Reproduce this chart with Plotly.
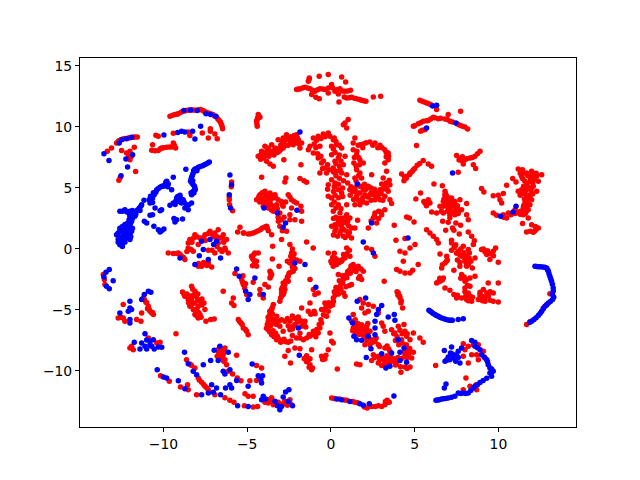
import plotly.graph_objects as go

# points, (x, y) in axis units, grouped by where they sit
red_upper_left = [
    (-9.61,10.87),(-9.31,11.01),(-9.11,11.09),(-8.82,11.28),(-8.58,11.37),(-8.32,11.39),(-8.06,11.37),(-7.78,11.42),
    (-7.58,11.28),(-7.32,11.15),(-7.06,11.01),(-6.83,10.79),(-6.67,10.52),(-6.55,10.25),(-6.47,9.86),
    (-9.45,10.95),(-9.2,11.05),(-8.95,11.2),(-8.7,11.32),(-8.45,11.38),(-8.2,11.38),(-7.9,11.4),(-7.65,11.35),(-7.45,11.2),(-7.2,11.08),(-6.95,10.9),(-6.75,10.65),(-6.6,10.4),(-6.5,10.05),
    (-11.56,9.18),(-11.8,9.15),(-12.1,9.1),(-12.4,9.02),(-12.64,8.88),(-12.8,8.69),(-13.1,8.28),(-13.35,8.0),
    (-12.5,8.97),(-12.3,9.05),(-12.0,9.12),(-11.7,9.17),(-12.7,8.8),
    (-12.5,8.06),(-12.2,7.87),(-12.0,8.0),(-11.74,8.33),(-11.9,7.6),(-12.0,7.32),(-12.08,7.55),(-11.66,6.34),(-12.66,5.63),(-12.58,5.85),
    (-10.7,8.09),(-10.31,8.06),(-10.11,8.28),(-9.81,8.33),(-9.51,8.36),(-9.27,8.28),(-9.41,8.69),(-10.65,8.55),(-10.45,9.32),(-10.31,9.23),
    (-10.5,8.05),(-10.2,8.2),(-10.0,8.3),(-9.65,8.35),(-9.35,8.5),
    (-9.41,9.48),(-8.52,9.59),(-8.42,9.29),(-7.68,9.51),(-7.2,9.86),(-7.2,9.64),(-7.32,9.1),(-6.93,9.43),(-6.79,9.04),
    (-4.34,11.01),(-4.38,10.74),(-4.44,10.46),(-4.4,10.05),(-4.24,10.79),(-4.4,10.6),(-4.42,10.25),(-4.3,10.9),
    (-5.93,5.49),(-6.07,4.04),(-6.05,3.63),(-5.87,3.14),(-5.95,5.1),(-6.07,4.25),
]
red_top_center = [
    (-0.7,14.15),(-0.16,14.29),(-1.29,14.02),(-1.35,13.74),(-2.05,13.06),(-1.85,13.11),(-1.55,13.25),(-1.25,13.14),(-0.96,12.92),
    (-0.66,13.14),(-0.36,13.06),(-0.16,13.2),(-1.15,12.65),(-0.9,12.43),(-0.7,12.32),(-0.16,12.79),(0.64,14.1),(0.88,13.69),(0.04,13.47),
    (0.24,12.92),(0.54,13.14),(0.84,12.92),(1.17,13.0),(0.44,12.7),(0.94,12.38),(1.23,12.43),(1.53,12.32),(1.83,12.19),(2.09,12.1),
    (0.48,12.05),(2.53,12.46),(2.97,12.51),
    (-1.95,13.1),(-1.7,13.2),(-1.4,13.2),(-1.1,13.0),(-0.8,13.05),(-0.5,13.1),(-1.3,13.9),(0.1,13.2),(0.35,13.05),(0.7,12.95),(1.0,12.95),(0.8,12.45),(1.1,12.4),(1.4,12.35),(1.7,12.25),(1.95,12.15),
]
red_center_top = [
    (-4.34,7.6),(-4.14,8.0),(-3.94,8.42),(-3.74,8.28),(-3.54,8.55),(-3.34,8.28),(-3.15,8.96),(-2.85,9.1),(-2.65,9.37),(-2.45,8.96),
    (-2.25,9.1),(-2.05,9.37),(-1.95,8.96),(-1.75,8.69),(-1.85,8.28),(-2.25,8.55),(-2.55,8.5),(-2.85,8.28),(-3.09,8.0),(-3.54,7.87),
    (-3.84,7.73),(-4.04,7.46),(-3.84,7.19),(-3.64,6.97),(-3.44,6.78),(-2.81,7.32),(-1.79,6.91),(-4.14,5.87),(-2.69,5.82),(-2.75,5.49),
    (-1.85,5.77),(-1.61,5.6),(-1.45,5.46),(-1.25,8.42),(-1.35,8.14),(-1.05,9.1),(-0.76,9.23),(-0.46,9.43),(-0.16,9.51),(-0.66,8.42),
    (-1.05,7.87),(-0.76,7.46),(-0.56,7.05),(-0.36,6.64),(-0.26,6.23),(-0.66,6.23),(-0.16,5.27),(-0.2,4.9),(-0.16,4.32),
    (-4.2,7.7),(-4.0,7.9),(-3.8,8.1),(-3.6,8.0),(-3.4,8.05),(-3.2,8.2),(-3.0,8.5),(-2.9,8.75),(-2.7,8.9),(-2.6,9.1),(-2.4,9.2),(-2.2,9.3),(-2.0,9.1),(-2.15,8.85),(-2.4,8.7),(-2.7,8.5),(-3.0,8.15),(-3.2,7.9),(-3.4,7.7),(-3.7,7.6),(-3.95,7.6),(-4.2,7.35),(-1.9,8.6),(-2.05,8.7),(-1.0,8.6),(-0.85,8.9),(-0.6,9.05),(-0.35,9.2),(-0.9,8.3),(-0.8,7.8),(-0.6,7.6),(-0.45,7.2),(-0.2,6.9),(-0.1,6.5),(-0.5,6.6),
    (-0.06,9.23),(0.14,8.96),(0.34,8.55),(0.04,8.42),(0.64,8.28),(1.03,10.6),(0.84,10.33),(0.94,9.92),(0.74,10.19),(1.43,9.1),
    (1.33,8.69),(1.63,8.5),(1.93,8.6),(2.33,8.77),(2.63,8.69),(2.93,8.5),(3.22,8.14),(3.42,7.87),(3.42,7.32),(3.22,7.05),(3.44,7.6),
    (1.33,8.14),(1.53,7.73),(1.73,7.32),(1.93,7.05),(1.37,7.05),(1.53,6.5),(1.73,6.23),(1.43,5.82),(1.83,5.82),(2.43,6.09),(3.32,6.37),
    (3.12,5.82),(3.48,5.63),
    (1.13,4.86),(1.43,5.0),(1.73,5.14),(1.93,4.86),(2.23,5.14),(2.53,4.73),(2.33,4.45),(2.03,4.45),(1.73,4.59),(1.53,4.32),(2.63,4.04),
    (2.93,4.86),(3.03,5.33),(3.22,5.14),(3.52,5.27),(3.42,4.73),(3.22,4.32),(3.52,4.04),(3.62,3.72),(2.93,4.04),(2.13,3.77),(1.73,3.63),
    (1.43,3.63),(0.94,3.63),(2.63,2.95),(2.53,2.54),(2.23,1.72),(2.73,2.13),(3.03,2.81),(3.22,3.22),(1.59,2.35),
    (0.04,7.73),(0.24,7.19),(0.44,7.46),(0.74,6.91),(0.84,7.6),(0.14,6.64),(0.34,6.37),(0.64,6.23),(0.94,6.09),(0.04,5.68),(0.24,5.41),
    (0.44,4.86),(0.64,4.59),(0.04,4.18),(0.04,3.63),(0.44,3.63),(0.14,3.09),(0.54,2.95),(0.94,2.81),(1.13,2.54),(0.74,2.54),(0.44,2.27),
    (0.24,1.99),(0.64,1.86),(0.94,2.13),(1.23,1.72),(1.43,1.72),(0.54,1.31),(0.94,1.45),(1.23,0.9),(0.24,1.45),(0.04,1.86),
    (0.2,9.1),(0.3,8.8),(0.5,8.5),(0.15,8.2),(0.25,7.9),(0.5,7.7),(0.6,7.2),(0.3,7.0),(0.5,6.8),(0.55,6.5),(0.15,6.3),(0.3,6.0),(0.5,5.8),(0.75,5.6),(0.2,5.1),(0.45,5.3),(0.7,5.0),(0.15,4.7),(0.25,4.4),(0.45,4.2),(0.7,4.3),(0.2,3.85),(0.6,3.3),(0.3,3.35),
    (1.0,5.4),(1.2,5.1),(1.3,4.7),(1.15,4.4),(1.35,4.05),(1.5,4.7),(1.6,5.3),(1.85,5.1),(2.0,5.3),(2.1,4.9),(2.4,5.0),(2.6,4.9),(2.4,4.6),(2.2,4.25),(2.6,4.4),(2.75,4.6),(2.8,4.3),(1.9,4.2),(1.65,4.0),(1.9,3.85),(2.4,4.0),(3.0,4.55),(3.1,4.9),(3.35,4.9),(3.3,5.4),(3.1,4.0),
    (1.5,5.6),(1.65,6.0),(1.5,6.8),(1.7,6.9),(1.4,7.5),(1.55,8.0),(1.9,8.3),(1.75,8.55),(2.1,8.7),(2.5,8.5),(2.8,8.3),(3.05,8.3),(3.3,7.9),(3.3,7.55),(1.65,7.5),
    (0.3,2.6),(0.55,2.5),(0.85,2.5),(0.45,2.05),(0.7,2.15),(0.15,2.5),(0.3,1.7),(0.75,1.6),(1.05,1.9),(1.0,2.3),(0.6,1.5),(0.15,1.15),(0.75,1.05),(0.85,0.95),(1.05,1.1),(0.4,1.05),(1.1,1.35),
    (2.4,2.3),(2.6,2.7),(2.85,3.1),(3.0,3.0),(2.85,2.5),
]
red_left_mid = [
    (-4.24,4.45),(-3.94,4.73),(-3.64,4.59),(-3.34,4.45),(-3.15,4.04),(-4.44,4.04),(-4.14,4.04),(-3.84,3.9),(-3.64,3.9),(-3.24,3.63),
    (-4.04,3.5),(-3.74,3.36),(-3.44,3.09),(-2.95,3.9),(-2.85,3.5),(-3.05,2.95),(-2.55,4.45),(-2.35,4.04),(-2.05,3.77),(-1.79,3.5),
    (-2.35,3.36),(-1.75,3.09),(-2.45,2.81),(-2.15,2.4),(-1.75,2.27),(-3.14,2.27),(-3.05,1.86),(-2.65,1.45),(-2.95,0.77),(-1.45,0.57),
    (-4.1,4.6),(-3.85,4.45),(-3.5,4.4),(-3.95,4.25),(-3.7,4.2),(-3.5,4.15),(-3.3,4.2),(-4.3,4.3),(-4.25,3.85),(-4.0,3.8),(-3.6,3.65),(-3.4,3.5),(-3.85,3.6),(-3.2,3.3),(-3.55,3.2),(-2.9,3.6),(-2.7,3.85),(-2.45,4.25),(-2.2,3.9),(-3.15,2.6),(-2.95,2.4),(-2.8,2.6),(-2.45,2.4),(-2.9,1.5),
    (-5.43,1.78),(-5.57,1.39),(-5.23,1.31),(-4.94,1.23),(-4.64,1.31),(-4.34,1.5),(-4.1,1.72),(-3.84,1.86),(-3.74,1.5),(-3.54,1.17),
    (-5.2,1.3),(-4.8,1.25),(-4.5,1.4),(-4.2,1.6),(-3.95,1.8),(-3.8,1.7),
    (-8.42,0.77),(-8.12,1.17),(-7.82,0.9),(-7.52,1.17),(-7.22,1.45),(-6.93,1.31),(-6.73,1.58),(-6.43,1.17),(-6.23,0.77),(-6.63,0.9),
    (-8.2,0.9),(-8.0,1.0),(-7.6,0.95),(-7.35,1.25),(-7.1,1.2),(-6.8,1.0),(-6.5,0.9),(-7.0,1.0),(-8.3,0.55),(-7.5,0.7),(-6.4,0.55),
    (-9.71,-0.33),(-9.41,-0.38),(-9.11,-0.33),(-8.92,-0.6),(-8.72,-0.87),(-8.52,0.08),(-8.22,-0.19),(-7.92,0.36),(-7.32,-0.11),(-7.92,-1.42),
    (-7.72,-1.42),(-7.52,-1.28),(-7.32,-1.15),(-7.12,-1.48),(-6.93,-0.33),(-6.63,-0.05),(-6.33,0.08),(-6.13,-0.33),(-6.73,0.49),(-8.52,0.49),
    (-9.2,-0.38),(-9.0,-0.45),(-8.8,-0.7),(-7.9,-1.2),(-7.8,-1.3),(-7.6,-1.1),(-7.4,-1.35),(-8.6,-0.2),(-8.35,-0.05),(-7.1,-0.1),(-6.8,0.2),(-6.5,-0.2),(-6.3,-0.05),
    (-4.54,-0.33),(-4.74,-0.6),(-4.64,-0.87),(-4.44,-1.01),(-4.68,-1.37),(-4.44,-1.42),(-4.34,-0.33),(-4.6,-0.45),(-4.7,-0.75),(-4.55,-1.2),
    (-3.48,0.22),(-3.5,-0.82),(-3.1,-1.42),(-3.64,-1.83),(-3.54,-2.1),(-3.64,-2.38),(-2.45,0.36),(-2.35,-0.33),(-2.25,-0.74),(-2.45,-1.15),(-3.6,-2.25),(-3.6,-1.95),
    (-1.85,-1.01),(-2.25,-1.83),(-2.55,-2.24),(-2.85,-2.79),(-2.85,-3.33),(-2.95,-3.88),(-3.05,-4.29),(-1.06,0.08),(-0.16,-0.33),(-1.25,-2.51),
    (-2.55,-2.65),(-2.75,-2.92),(-2.95,-3.33),(-2.85,-3.74),(-1.05,-3.33),(-0.96,-3.74),(-0.76,-3.6),
    (-2.6,-2.3),(-2.7,-2.6),(-2.8,-2.95),(-2.9,-3.15),(-2.75,-3.3),(-2.8,-3.55),(-2.95,-3.6),(-3.0,-4.0),(-2.4,-1.9),(-2.3,-1.5),(-2.35,-0.9),(-2.25,-1.3),(-2.2,-0.4),(-2.4,-0.6),(-2.5,-2.0),(-2.15,-1.6),(-2.3,0.0),(-2.05,-0.9),(-2.6,-1.0),
]
red_lower_left = [
    (-13.59,-2.1),(-13.53,-2.51),(-13.49,-2.92),(-11.14,-4.15),(-10.9,-4.7),(-10.8,-5.11),(-10.6,-5.38),(-11.0,-4.4),(-12.4,-4.56),
    (-11.05,-4.35),(-10.95,-4.9),(-10.85,-4.95),(-10.7,-5.25),(-11.2,-4.0),(-12.55,-5.6),(-10.65,-5.2),
    (-12.7,-5.66),(-12.4,-5.66),(-12.3,-5.93),(-11.6,-5.79),(-11.34,-5.93),(-11.3,-5.25),
    (-12.0,-8.11),(-11.8,-8.25),(-11.9,-7.98),(-10.9,-7.3),(-10.4,-7.71),(-10.2,-7.65),
    (-10.17,-10.38),(-9.65,-10.85),(-8.98,-11.31),(-8.52,-11.53),(-8.56,-11.12),(-8.62,-9.07),(-8.32,-9.56),(-8.12,-9.75),(-7.92,-10.57),
    (-7.72,-10.93),(-7.52,-11.26),(-7.32,-11.53),(-8.02,-11.94),(-6.93,-11.94),(-6.33,-12.2),(-6.03,-12.4),(-5.79,-12.57),(-5.17,-12.84),
    (-7.85,-10.75),(-7.6,-11.1),(-7.4,-11.4),(-8.4,-9.45),
    (-4.64,-12.95),(-4.38,-12.9),(-5.37,-10.79),(-4.84,-10.79),(-4.44,-10.77),(-5.13,-11.86),(-4.94,-12.08),(-4.64,-12.08),
    (-6.73,-8.25),(-6.53,-8.25),(-6.33,-8.11),(-5.63,-8.72),(-6.43,-8.66),(-6.33,-9.07),(-6.23,-9.48),(-6.79,-8.8),(-6.13,-10.03),
    (-6.7,-8.5),(-6.6,-8.7),(-6.5,-8.9),(-6.4,-9.2),(-6.5,-8.3),(-6.65,-8.05),(-6.4,-8.4),
    (-5.87,-10.25),(-5.59,-10.57),(-4.44,-9.56),(-4.14,-9.75),
    (-3.94,-12.57),(-3.74,-12.35),(-3.54,-12.2),(-3.74,-12.62),(-3.44,-12.76),(-3.15,-12.57),(-2.75,-12.48),(-2.55,-12.62),(-2.45,-12.35),
    (-3.85,-12.4),(-3.6,-12.45),(-3.3,-12.65),(-3.05,-12.7),(-2.85,-12.7),(-2.6,-12.8),(-2.4,-12.7),(-3.95,-12.3),
    (-5.73,-2.02),(-5.33,-2.51),(-5.23,-2.92),(-5.03,-3.74),(-4.64,-2.73),(-3.94,-2.92),(-3.74,-3.11),(-4.24,-3.33),(-4.24,-3.74),(-4.04,-4.02),
    (-5.28,-2.7),(-5.15,-3.2),(-5.4,-2.3),(-5.25,-2.2),(-5.1,-2.85),
    (-6.43,-3.47),(-5.83,-4.02),(-5.93,-4.43),(-5.79,-4.64),
    (-8.86,-3.52),(-8.72,-3.88),(-8.52,-4.15),(-8.32,-3.06),(-8.12,-3.47),(-8.32,-4.02),(-8.12,-4.43),(-8.42,-4.7),(-8.22,-4.97),(-7.92,-4.7),
    (-7.82,-4.29),(-7.58,-4.43),(-7.52,-4.97),(-8.12,-5.38),(-7.92,-5.65),(-7.82,-5.38),(-7.46,-5.93),(-7.18,-5.79),(-6.97,-5.74),
    (-8.78,-3.7),(-8.6,-3.7),(-8.4,-3.85),(-8.5,-4.4),(-8.3,-4.3),(-8.2,-3.8),(-8.05,-3.9),(-7.95,-4.15),(-7.7,-4.6),(-8.0,-4.9),(-8.3,-4.55),(-8.1,-5.0),(-7.9,-5.2),(-8.0,-5.5),(-7.75,-5.6),(-7.95,-3.7),(-8.25,-3.3),(-7.7,-4.1),
    (-5.53,-5.79),(-5.37,-6.07),(-5.23,-6.48),(-5.03,-6.75),(-4.94,-7.02),(-9.25,-6.94),(-5.3,-6.2),(-5.1,-6.6),(-5.45,-5.95),
]
red_center_low = [
    (-3.44,-4.56),(-3.54,-4.97),(-3.64,-5.38),(-3.74,-5.93),(-3.74,-6.61),(-3.54,-7.02),(-3.24,-7.43),(-2.95,-7.57),(-2.55,-7.65),(-3.44,-6.07),
    (-3.24,-5.52),(-3.05,-6.34),(-2.75,-5.93),(-2.45,-5.93),(-2.25,-5.66),(-1.95,-5.57),(-1.75,-5.93),(-1.55,-5.93),(-2.25,-6.34),(-2.45,-6.61),
    (-1.75,-6.34),(-2.85,-6.75),(-2.05,-7.3),(-1.65,-7.43),(-1.25,-7.16),(-1.05,-6.75),(-1.75,-4.84),(-1.25,-4.43),(-1.35,-5.11),(-1.0,-5.11),
    (-0.56,-4.97),(-0.36,-4.43),(-0.16,-5.11),(-0.26,-5.52),(-0.56,-6.07),(-0.66,-6.48),(-0.76,-6.88),(-0.16,-8.25),
    (-3.5,-4.8),(-3.65,-5.1),(-3.5,-5.3),(-3.75,-5.6),(-3.55,-5.7),(-3.8,-6.2),(-3.6,-6.3),(-3.85,-6.5),(-3.65,-6.8),(-3.45,-6.7),(-3.4,-7.2),(-3.2,-7.15),(-3.1,-7.4),(-2.8,-7.4),(-3.3,-6.9),(-3.0,-7.65),(-2.7,-7.6),(-2.4,-7.55),(-3.35,-5.8),(-3.25,-6.2),(-3.1,-5.9),(-2.95,-5.8),(-2.6,-5.7),(-2.3,-5.5),(-2.1,-5.7),(-1.85,-5.85),(-2.0,-6.0),(-2.15,-6.2),(-2.55,-6.3),(-2.3,-6.55),(-1.6,-6.1),(-1.5,-6.4),(-1.85,-6.9),(-2.3,-7.1),(-1.85,-7.3),(-1.45,-7.3),(-1.3,-7.0),(-0.85,-6.6),(-0.7,-6.2),(-0.6,-5.8),(-0.45,-5.4),(-0.35,-5.0),(-0.3,-4.75),(-0.15,-4.4),(-0.95,-5.3),(-1.2,-5.35),(-0.9,-7.2),(-1.05,-7.0),
    (-2.55,-8.33),(-2.75,-8.8),(-2.41,-9.34),(-2.15,-8.11),(-1.85,-8.17),(-1.55,-8.93),(-1.35,-9.07),(-1.25,-9.48),(-1.15,-9.89),(-1.15,-8.25),
    (-0.56,-8.8),(-0.36,-9.02),(-1.6,-9.0),(-1.45,-9.25),(-1.3,-9.7),(-1.25,-9.0),(-1.45,-8.75),(-1.1,-9.75),(-0.45,-8.9),(-0.5,-9.05),(-0.3,-8.7),
    (1.93,-1.83),(1.63,-1.42),(1.33,-1.28),(1.13,-1.69),(0.94,-2.1),(0.74,-2.51),(0.54,-3.06),(0.34,-3.47),(0.14,-4.02),(0.04,-4.43),(-0.06,-4.7),
    (0.84,-3.88),(1.23,-2.92),(1.73,-2.24),(1.83,-2.51),(0.44,-2.1),(0.24,-0.74),(0.04,-1.15),(0.94,0.08),(1.13,-0.6),(0.84,-0.74),(0.64,-1.01),
    (1.8,-1.65),(1.55,-1.6),(1.4,-1.5),(1.2,-1.4),(1.5,-1.85),(1.3,-1.75),(1.15,-2.0),(1.0,-1.85),(0.95,-2.35),(0.85,-2.2),(0.7,-2.2),(0.7,-2.8),(0.6,-2.7),(0.5,-2.6),(0.45,-3.3),(0.6,-3.3),(0.3,-3.15),(0.25,-3.8),(0.45,-3.7),(0.15,-4.3),(0.2,-3.5),(0.1,-4.6),(-0.02,-4.5),(0.75,-3.6),(1.1,-3.0),(0.9,-3.1),(1.65,-2.4),
    (0.4,-0.9),(0.5,-1.1),(0.25,-1.05),(0.7,-0.85),(0.95,-0.4),(1.1,-0.1),(0.75,-0.45),(0.2,-0.35),(0.0,-1.0),(0.1,-0.7),
    (0.34,-1.28),(0.14,-1.42),(2.43,-0.05),(2.63,-0.6),(2.13,0.08),(3.18,-2.65),(4.02,-3.61),(4.12,-4.02),(4.18,-4.43),(4.28,-4.84),(4.0,-3.8),(4.1,-3.85),(4.2,-4.25),(3.95,-3.5),
    (4.12,-0.19),(4.42,-0.33),(4.72,0.08),(5.02,0.36),(4.32,-1.01),(4.12,-1.83),(4.42,-1.97),(4.72,-1.97),(4.88,-1.75),(5.21,-1.28),(3.92,-1.69),
    (1.73,-4.15),(1.93,-4.43),(2.23,-4.56),(1.83,-4.84),(2.03,-5.25),(2.23,-5.11),(2.53,-4.7),(1.33,-5.38),(1.23,-5.93),(2.83,-5.25),(3.03,-6.07),
    (3.12,-6.34),(3.22,-6.75),(1.53,-6.34),(1.83,-6.21),(2.13,-6.34),(2.33,-6.75),(2.03,-6.75),(1.73,-6.75),(1.43,-6.75),(1.33,-6.48),(2.43,-7.43),
    (1.45,-5.8),(1.4,-6.1),(1.6,-6.1),(1.75,-6.4),(1.9,-6.6),(1.55,-6.55),(1.3,-6.7),(2.15,-6.6),(2.2,-6.1),(1.5,-6.95),(1.65,-7.0),(1.9,-7.05),(2.05,-7.2),(2.2,-6.85),(2.7,-7.3),(2.5,-7.65),(2.9,-8.0),(2.15,-7.5),
    (2.33,-7.84),(2.63,-7.57),(2.83,-7.84),(2.03,-7.84),(3.62,-6.61),(3.82,-6.89),(4.12,-6.67),(4.36,-6.2),(4.02,-6.34),(4.42,-6.75),(4.92,-6.89),
    (5.31,-7.3),(5.51,-7.65),(4.52,-7.16),(4.72,-7.43),(4.22,-7.43),(4.72,-8.39),(4.92,-8.47),(4.52,-8.25),(4.42,-8.66),(4.82,-8.93),(3.22,-8.11),
    (3.52,-8.39),(2.53,-8.66),(2.83,-8.8),(3.12,-8.93),(3.42,-9.07),(3.72,-9.21),(2.43,-9.13),(2.83,-9.34),(3.03,-9.56),(3.92,-9.34),(4.42,-9.67),
    (2.6,-8.9),(2.9,-9.1),(3.2,-9.2),(3.5,-9.3),(3.85,-9.5),(4.15,-9.65),(4.55,-9.8),(3.25,-9.4),(2.95,-8.9),(3.35,-8.75),(3.6,-8.9),(3.85,-9.0),(4.0,-8.9),(4.25,-8.95),(4.55,-8.9),(4.65,-8.6),(4.4,-8.4),(4.7,-8.15),(4.5,-7.85),(4.25,-7.7),(4.05,-7.85),(3.85,-7.5),(3.95,-7.2),(3.75,-6.95),(4.25,-6.95),(4.55,-6.95),(3.45,-8.2),(3.35,-7.95),
    (4.72,-9.67),(4.18,-10.11),(1.53,-9.43),(1.73,-9.48),(0.38,-9.84),(-0.06,-6.89),(0.04,-7.57),(0.14,-7.7),
    (0.04,-12.21),(0.94,-12.4),(1.43,-12.57),(2.17,-13.03),(2.43,-12.9),(2.83,-12.84),(3.03,-12.9),(3.22,-12.76),(3.36,-12.4),(3.48,-12.57),
    (0.2,-12.25),(0.5,-12.3),(0.8,-12.38),(1.3,-12.5),(1.6,-12.6),(3.3,-12.6),(3.4,-12.5),(3.25,-12.5),(2.0,-12.95),(2.65,-12.9),
]
red_right = [
    (13.07,-3.66),(12.88,-4.56),(12.68,-4.84),(11.68,-6.2),(11.88,-5.96),
    (7.9,-7.76),(8.2,-7.98),(8.5,-7.84),(8.8,-7.84),(9.1,-8.39),(8.7,-8.66),(8.4,-8.66),(8.8,-9.07),(9.2,-8.93),(8.2,-9.34),(7.9,-8.8),(7.4,-8.93),
    (6.91,-9.07),(8.0,-8.25),(9.5,-9.75),(6.25,-9.56),(8.06,-10.57),(7.9,-11.53),(8.3,-11.26),(8.66,-11.12),(8.7,-11.53),
    (6.41,0.49),(7.2,0.49),(7.4,0.22),(7.6,-0.19),(7.8,-0.6),(8.0,-1.01),(8.1,-1.42),(6.51,-0.41),(6.91,-0.6),(6.81,-1.15),(6.61,-1.56),(6.71,-2.38),
    (6.51,-2.65),(6.31,-2.79),(7.34,-1.75),(7.8,-2.1),(8.0,-2.65),(8.3,-2.38),(8.6,-2.24),(8.0,-3.2),(8.2,-3.61),(8.1,-4.15),(8.4,-4.29),(7.8,-4.02),
    (7.5,-4.02),(7.34,-3.74),(6.81,-3.2),(7.1,-3.39),(8.9,-3.74),(9.3,-3.61),(9.69,-3.61),(8.8,-4.15),(9.2,-4.29),(9.69,-4.29),(9.99,-4.34),(9.99,-2.79),
    (9.39,-2.79),(9.1,-3.33),(8.99,-0.05),(9.3,-0.46),(9.49,-0.87),(9.69,-0.19),(9.83,0.08),(9.99,-1.09),(8.6,-0.74),(8.44,-1.56),(8.26,-0.33),(8.5,0.36),
    (7.9,0.22),(8.1,-0.6),(7.7,-1.42),(8.2,-1.28),(8.3,-3.06),
    (7.2,-0.1),(7.35,0.1),(7.5,-0.35),(7.7,-0.5),(7.45,0.35),(7.75,0.0),(7.95,-0.3),(8.2,-0.05),(8.0,-0.85),(7.55,-0.9),(6.9,-1.0),(6.65,-1.3),(6.95,-0.9),(8.1,-1.2),(8.25,-0.75),(7.7,-1.1),(8.35,-1.0),
    (7.75,-2.4),(7.95,-2.3),(8.1,-2.5),(8.15,-3.0),(8.0,-3.5),(8.05,-3.85),(8.3,-3.85),(8.2,-4.25),(8.45,-3.95),(8.9,-3.95),(9.05,-3.9),(9.2,-4.0),(9.4,-3.85),(9.5,-4.2),(9.05,-4.25),(8.9,-3.55),(9.5,-3.5),(7.55,-3.8),(9.55,-0.4),(9.35,-0.15),(9.2,-0.25),(9.7,-0.55),(9.1,0.0),
    (6.5,-2.4),(6.65,-2.55),(6.4,-2.7),
    (5.31,12.19),(5.61,12.02),(5.87,11.89),(6.31,11.42),(4.92,10.05),(5.21,10.27),(5.51,10.46),(5.81,10.52),(6.11,10.79),(6.41,10.68),(6.81,10.66),
    (7.11,10.46),(7.7,10.14),(8.0,10.0),(8.16,9.84),(7.74,11.28),(7.0,11.01),(5.35,9.64),(5.61,9.78),(5.11,8.47),
    (5.0,10.1),(5.35,10.35),(5.7,10.5),(5.95,10.65),(6.2,10.75),(6.55,10.72),(6.95,10.6),(7.25,10.4),(7.55,10.25),(7.85,10.05),(5.45,12.1),(5.75,11.95),(6.0,11.8),(5.45,9.72),
    (7.5,7.65),(7.74,7.46),(8.0,7.32),(7.9,6.97),(8.3,7.46),(8.6,7.6),(8.9,8.0),(8.5,6.91),(8.64,6.59),(7.6,6.28),
    (7.65,7.3),(7.85,7.2),(7.85,7.55),(8.1,7.4),(8.75,7.8),(8.45,7.5),
    (4.22,6.15),(4.52,5.96),(4.36,5.6),(4.72,6.23),(4.92,6.5),(5.15,6.86),(5.51,7.24),(6.01,6.78),(5.81,6.97),
    (4.7,6.1),(4.5,5.8),(5.0,6.6),(5.3,7.0),(4.85,6.35),(4.4,5.9),
    (6.15,5.33),(6.65,5.19),(5.35,4.59),(5.07,4.1),(5.81,4.04),(5.61,3.77),(5.91,3.77),(6.81,4.73),(6.91,4.32),(7.2,4.18),(7.4,3.9),(6.71,3.9),(6.51,3.5),
    (6.91,3.5),(7.2,3.5),(7.5,3.36),(7.8,3.22),(8.1,3.72),(7.7,4.04),(6.31,2.95),(6.01,3.03),(6.71,2.95),(7.1,2.81),(7.4,2.81),(8.1,2.81),(8.2,2.4),(7.74,1.94),
    (6.85,4.5),(7.0,4.2),(6.75,4.1),(6.95,3.95),(7.15,3.95),(7.3,3.7),(7.05,3.7),(6.85,3.75),(6.7,3.5),(7.05,3.35),(7.35,3.5),(7.55,3.55),(7.65,3.2),(7.45,3.15),(7.15,3.1),(6.95,3.1),(6.6,3.1),(7.3,3.0),(7.6,2.9),(6.8,4.45),(7.1,2.55),
    (5.55,3.9),(5.7,3.55),(5.85,3.85),
    (6.67,2.27),(7.0,2.19),(7.46,2.13),(6.85,1.53),(7.26,1.72),(7.34,1.53),(7.66,1.23),(8.2,1.39),(8.4,1.04),(8.56,0.68),(7.2,0.71),
    (4.52,2.62),(4.68,2.54),(4.96,2.21),(3.78,1.94),(5.71,1.58),(5.91,1.31),(6.11,1.04),(6.31,0.77),(4.42,0.85),(3.88,0.71),
    (8.99,4.95),(9.13,4.67),(9.69,4.37),(9.99,4.4),(10.29,4.54),(10.09,4.04),(10.19,3.77),(10.49,5.22),(10.85,5.77),(11.05,5.49),(11.18,6.56),(11.44,6.5),
    (11.68,6.23),(11.98,6.37),(12.28,5.96),(12.58,6.09),(12.38,5.55),(11.88,5.55),(11.38,5.96),(11.58,5.55),(11.38,4.86),(11.18,4.73),(11.68,4.86),(12.08,5.14),
    (12.28,4.73),(11.88,4.45),(11.68,4.18),(11.98,4.04),(11.58,3.77),(11.88,3.63),(11.48,3.36),(11.78,3.22),(9.69,2.95),(9.89,2.76),(10.29,2.81),(10.59,2.95),
    (10.49,2.54),(11.18,3.03),(11.48,2.81),(11.78,2.54),(11.44,2.08),(11.98,1.99),(12.38,1.72),(12.18,1.5),(12.08,1.37),(11.68,1.39),(10.99,3.22),
    (11.3,6.2),(11.5,6.2),(11.75,6.0),(11.9,5.85),(12.15,5.7),(12.05,5.4),(11.7,5.3),(11.5,5.15),(11.8,5.05),(11.95,4.85),(11.6,4.5),(11.45,4.6),(11.3,4.4),(11.8,4.25),(12.05,4.5),(11.55,4.1),(11.7,3.85),(11.5,3.55),(11.7,3.5),(11.65,3.05),(11.35,3.1),(11.3,2.85),(11.0,2.9),(10.75,2.8),(10.3,2.6),(11.6,2.9),(12.25,1.6),(12.2,1.85),(11.9,1.45),(12.25,6.2),(12.0,6.05),(11.45,5.75),
]
blue_upper_left = [
    (-8.78,11.34),(-8.38,11.39),(-7.98,11.34),(-7.46,11.09),(-7.18,11.01),(-6.87,10.87),(-11.9,9.15),(-12.2,9.04),(-12.5,8.96),(-12.64,8.69),
    (-13.55,7.81),(-13.25,7.24),(-11.84,7.73),(-12.24,7.38),(-12.14,6.72),(-12.53,6.01),(-9.97,9.34),(-9.15,9.54),(-8.92,9.64),(-8.72,9.59),
    (-8.26,9.64),(-8.12,9.02),(-7.78,10.05),
    (-12.6,3.09),(-12.3,3.22),(-12.0,3.09),(-11.7,3.04),(-11.44,3.36),(-11.3,3.63),(-11.7,2.68),(-11.9,2.27),(-12.0,2.0),(-12.2,1.72),(-12.4,1.58),(-12.6,1.45),
    (-12.4,1.17),(-12.1,1.31),(-11.9,1.45),(-12.8,1.17),(-12.5,0.77),(-12.2,0.9),(-12.0,0.77),(-12.3,2.0),(-12.0,2.68),(-12.5,0.36),(-12.7,0.55),
    (-12.7,1.3),(-12.55,1.6),(-12.45,1.85),(-12.3,1.45),(-12.15,1.5),(-12.25,1.2),(-12.6,0.95),(-12.35,0.95),(-12.45,0.6),(-12.3,0.55),(-12.15,1.05),(-12.0,1.2),(-11.85,1.7),(-12.05,1.85),(-11.95,2.15),(-12.15,2.1),(-12.05,2.4),(-11.85,2.5),(-11.8,2.9),(-11.65,2.85),(-11.55,3.2),(-11.85,3.15),(-12.2,3.05),(-12.45,3.1),(-12.05,2.9),(-11.4,3.15),(-11.35,3.5),(-12.6,0.35),(-12.45,0.2),(-12.6,1.7),(-12.7,0.8),(-11.95,1.0),
    (-10.8,3.77),(-10.85,4.04),(-10.77,4.32),(-10.6,4.6),(-10.4,4.86),(-10.2,5.05),(-10.0,5.14),(-9.85,5.49),(-9.71,5.33),(-9.41,5.87),(-11.16,3.99),
    (-10.75,3.9),(-10.65,4.15),(-10.55,4.45),(-10.45,4.65),(-10.3,4.95),(-10.1,5.15),(-9.9,5.3),(-9.75,5.1),(-9.8,5.55),(-10.65,3.8),
    (-9.61,3.58),(-9.41,3.77),(-9.21,4.18),(-9.01,4.4),(-8.82,4.04),(-8.62,3.63),(-8.52,3.22),(-8.32,3.77),(-9.11,3.9),(-8.92,3.77),(-8.72,3.36),
    (-9.25,3.95),(-9.15,4.3),(-8.95,3.95),(-8.75,3.8),(-8.65,3.4),(-8.5,3.6),(-9.3,3.65),(-9.0,4.2),
    (-10.5,3.36),(-10.11,3.22),(-10.2,3.14),(-10.8,2.76),(-10.65,2.81),(-11.14,2.27),(-11.0,2.13),(-10.57,1.86),(-10.3,1.58),(-10.11,1.5),(-9.97,1.64),(-10.2,1.39),
    (-9.37,2.49),(-9.31,2.21),(-9.21,2.4),(-8.86,2.46),
    (-7.26,7.13),(-7.46,6.97),(-7.66,6.83),(-7.92,6.69),(-8.12,6.56),(-8.22,6.23),(-8.32,5.87),(-8.38,5.55),(-8.22,5.27),(-8.12,5.0),(-8.22,4.73),(-8.32,4.45),
    (-7.35,7.05),(-7.55,6.9),(-7.8,6.75),(-8.0,6.6),(-8.2,6.4),(-8.27,6.05),(-8.35,5.7),(-8.3,5.4),(-8.15,5.15),(-8.1,4.85),(-8.25,4.55),(-8.35,4.6),(-8.0,6.4),(-8.25,5.6),
    (-8.18,4.6),(-8.66,6.53),(-9.51,4.86),
    (-6.03,6.07),(-5.93,5.27),(-6.07,4.45),(-5.99,3.36),(-4.0,3.36),(-2.03,3.17),(-2.71,2.13),(-2.85,1.78),(-1.85,9.59),(-3.2,2.95),
]
blue_scattered = [
    (1.57,5.33),(2.43,2.13),(-7.72,0.63),(-7.22,0.77),(-6.83,0.63),(-9.01,-0.74),(-7.62,-0.05),(-7.86,-0.55),(-7.32,-0.87),(-8.12,-1.28),(-6.59,-0.74),
    (-7.0,0.36),(-2.15,-1.15),(-1.55,-1.28),(-1.95,-6.48),(-1.89,-8.72),(-0.9,-3.14),(2.53,-0.33),(6.07,11.72),(6.31,11.78),(7.46,10.33),(5.71,9.92),
    (7.26,6.23),(4.6,0.9),(1.93,0.57),(11.05,3.5),(10.87,3.03),(10.13,2.68),
]
blue_lower_left = [
    (-13.23,-1.69),(-13.43,-1.91),(-13.23,-3.25),(-13.0,-2.6),(-13.55,-2.3),(-13.4,-3.05),
    (-10.9,-3.47),(-10.75,-3.55),(-11.14,-3.74),(-11.3,-4.15),(-12.0,-4.29),(-12.0,-4.84),(-12.1,-5.11),(-11.9,-4.97),(-12.6,-5.25),(-12.0,-5.79),(-12.0,-6.07),
    (-11.74,-7.65),(-11.1,-6.94),(-11.3,-7.71),(-11.1,-7.98),(-10.8,-7.57),(-10.6,-7.43),(-10.7,-7.98),(-11.0,-8.2),(-10.3,-8.03),(-10.1,-8.06),(-11.4,-8.2),
    (-10.55,-8.2),(-11.0,-7.45),(-10.8,-7.85),
    (-10.37,-9.89),(-10.0,-10.49),(-9.81,-10.57),(-9.11,-10.79),(-8.72,-11.45),(-8.74,-8.47),(-8.52,-9.4),(-8.22,-10.03),(-8.02,-10.3),(-7.72,-11.94),(-7.32,-11.8),
    (-7.12,-11.12),(-7.02,-11.75),(-6.83,-11.39),(-6.59,-11.94),(-5.57,-12.84),(-4.94,-12.9),(-6.29,-11.39),(-6.03,-11.12),(-5.93,-11.39),(-5.63,-10.77),(-4.94,-11.26),
    (-6.97,-8.3),(-6.63,-7.98),(-6.13,-8.47),(-6.73,-9.13),(-7.18,-9.15),(-7.62,-9.48),(-6.43,-10.03),(-6.33,-10.25),(-6.03,-9.89),(-4.7,-9.43),(-4.34,-10.38),
    (-4.08,-10.38),(-4.18,-10.71),(-4.14,-10.98),(-2.51,-11.53),(-2.71,-11.72),(-4.04,-12.08),(-4.14,-12.35),(-3.34,-12.48),(-3.05,-13.17),(-2.95,-12.9),(-2.29,-12.84),(-2.85,-12.13),
    (-3.9,-12.3),(-3.2,-12.85),(-2.55,-12.5),
    (-5.63,-1.64),(-5.47,-2.24),(-5.09,-3.47),(-4.84,-3.74),(-4.94,-4.15),(-4.54,-2.38),(-4.04,-3.74),
]
blue_lower_right = [
    (0.34,-12.3),(0.64,-12.35),(1.13,-12.49),(1.73,-12.68),(1.93,-12.8),(2.29,-12.68),(3.76,-12.05),
    (5.85,-5.03),(6.01,-5.19),(6.21,-5.38),(6.41,-5.52),(6.61,-5.66),(6.87,-5.77),(7.1,-5.85),(7.6,-5.79),(7.9,-5.71),
    (5.93,-5.1),(6.1,-5.28),(6.3,-5.45),(6.5,-5.6),(6.75,-5.72),(7.0,-5.82),(7.2,-5.85),(7.25,-5.85),
    (12.18,-1.42),(12.38,-1.45),(12.64,-1.48),(12.88,-1.56),(12.98,-1.83),(13.07,-2.24),(13.17,-2.65),(13.27,-3.2),(13.23,-3.74),(13.23,-4.15),(12.98,-4.43),
    (12.78,-4.7),(12.58,-5.11),(12.38,-5.46),(12.12,-5.79),(11.88,-6.01),
    (12.28,-1.43),(12.5,-1.46),(12.76,-1.5),(12.93,-1.7),(13.02,-2.03),(13.12,-2.45),(13.22,-2.9),(13.27,-3.45),(13.3,-3.95),(13.1,-4.3),(12.88,-4.6),(12.68,-4.9),(12.48,-5.28),(12.25,-5.63),(12.0,-5.9),
    (2.07,-4.02),(1.57,-4.29),(3.03,-4.64),(2.83,-4.97),(2.73,-5.38),(3.42,-5.57),(3.78,-5.38),(3.82,-5.85),(1.07,-5.66),(1.29,-6.07),(2.63,-5.93),(2.63,-6.48),
    (2.63,-7.02),(2.23,-7.16),(1.37,-7.16),(1.53,-7.43),(1.83,-7.49),(4.02,-7.43),(4.36,-8.11),(4.12,-8.47),(2.39,-8.17),(3.03,-8.58),(2.11,-8.9),(3.62,-8.52),
    (4.52,-9.29),(3.28,-9.75),(3.52,-9.62),(4.12,-9.15),
    (6.77,-8.33),(7.2,-8.03),(7.14,-8.52),(7.3,-8.93),(7.5,-8.66),(7.1,-9.07),(6.81,-9.21),(7.7,-9.34),(7.6,-8.39),(7.8,-8.11),(8.4,-7.51),(8.6,-7.98),(8.9,-8.25),
    (8.99,-8.66),(9.3,-9.07),(9.39,-9.48),(9.69,-10.03),(9.49,-10.16),(9.59,-10.44),(9.09,-10.77),(8.74,-11.12),(8.5,-11.39),(8.2,-11.8),(7.9,-11.8),(7.6,-11.8),
    (7.4,-12.08),(7.0,-12.21),(6.71,-12.27),(6.47,-12.35),(6.27,-12.4),(6.87,-11.07),(6.77,-11.39),
    (8.6,-7.65),(8.75,-8.1),(9.15,-8.85),(9.35,-9.25),(9.5,-9.75),(9.6,-9.85),(9.3,-10.6),(8.9,-10.95),(8.6,-11.25),(8.35,-11.6),(8.05,-11.85),(7.75,-11.85),(7.2,-12.15),(6.85,-12.25),(6.6,-12.3),(6.37,-12.38),(7.0,-8.85),(7.25,-8.6),(7.4,-8.8),(7.6,-8.9),(6.95,-9.1),(7.45,-9.2),
]
x_ticks = [-10, -5, 0, 5, 10]
y_ticks = [-10, -5, 0, 5, 10, 15]

red_points = red_upper_left + red_top_center + red_center_top + red_left_mid + red_lower_left + red_center_low + red_right
blue_points = blue_upper_left + blue_scattered + blue_lower_left + blue_lower_right

fig = go.Figure()
for pts, color in [(red_points, "#ff0000"), (blue_points, "#0000ff")]:
    fig.add_trace(go.Scatter(
        x=[p[0] for p in pts], y=[p[1] for p in pts],
        mode="markers", marker=dict(color=color, size=5.5, line=dict(width=0)),
    ))

axis_style = dict(
    showgrid=False, zeroline=False, showline=True, mirror=True, linecolor="black", linewidth=1,
    ticks="outside", ticklen=4, tickwidth=1, tickcolor="black",
    tickfont=dict(family="DejaVu Sans", size=13.9, color="black"),
)
fig.update_xaxes(range=[-14.98, 14.63], tickvals=x_ticks, **axis_style)
fig.update_yaxes(range=[-14.59, 15.65], tickvals=y_ticks, **axis_style)
# the page adds an 8px body margin, so the figure is 8px smaller and the top/left margins shrink by it
fig.update_layout(
    width=632, height=472, showlegend=False, plot_bgcolor="white", paper_bgcolor="white",
    margin=dict(l=72, r=64, t=50, b=53),
)
fig.write_html("out.html")
